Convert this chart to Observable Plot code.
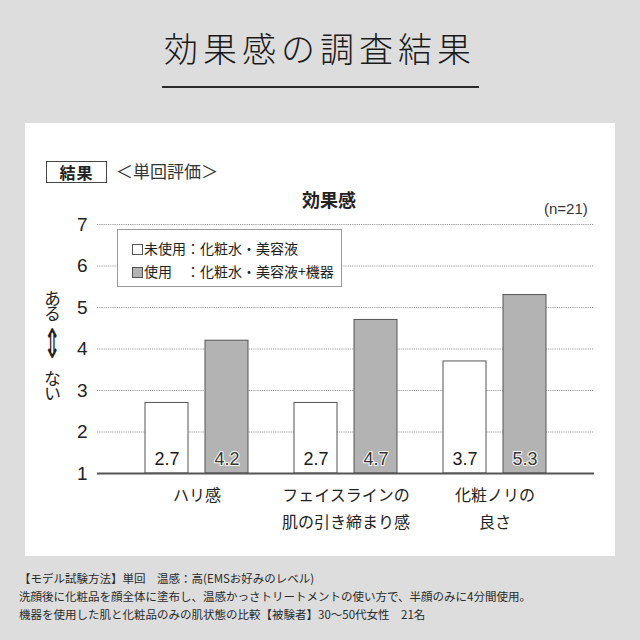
<!DOCTYPE html>
<html>
<head>
<meta charset="utf-8">
<script src="https://cdn.jsdelivr.net/npm/d3@7"></script>
<script src="https://cdn.jsdelivr.net/npm/@observablehq/plot@0.6"></script>
<style>
  html, body { margin: 0; padding: 0; }
  body { width: 640px; height: 640px; background: #dddddd; position: relative; overflow: hidden;
         font-family: "Noto Sans CJK JP", "Noto Sans", sans-serif; color: #222; }
  .abs { position: absolute; white-space: nowrap; }
  #panel { left: 25px; top: 123px; width: 590px; height: 433px; background: #fff; }
  #title { left: 0; width: 640px; top: 26px; text-align: center; font-size: 34px; font-weight: 300; letter-spacing: 5px; line-height: 44px; color: #1a1a1a; }
  #rule { left: 162px; top: 86px; width: 317px; height: 2px; background: #2a2a2a; }
  #chart { left: 0; top: 0; }
  #resbox { left: 46px; top: 161px; width: 59px; height: 20px; border: 1px solid #444; font-size: 16px; font-weight: bold; line-height: 20px; text-align: center; letter-spacing: 1px; }
  #tanpatsu { left: 116px; top: 160px; font-size: 17px; line-height: 22px; color: #333; }
  #ctitle { left: 302px; top: 187px; font-size: 18px; font-weight: bold; line-height: 24px; }
  #nlabel { left: 544px; top: 200px; font-size: 15px; line-height: 18px; color: #333; font-family: "Liberation Sans", "Noto Sans CJK JP", sans-serif; }
  #legend { left: 117px; top: 229px; width: 223px; height: 56px; border: 1px solid #999; background: #fff; }
  .lrow { position: absolute; left: 14px; font-size: 14px; line-height: 18px; color: #222; }
  .sq { display: inline-block; width: 9px; height: 9px; border: 1px solid #555; vertical-align: -1px; margin-right: 1px; }
  #ylab { left: 43px; top: 290px; writing-mode: vertical-rl; text-orientation: upright; font-size: 17px; line-height: 18px; letter-spacing: -2px; color: #222; }
  #ylab .arr { display: inline-block; writing-mode: horizontal-tb; width: 18px; height: 50px; line-height: 50px; text-align: center; font-size: 22px; font-family: "DejaVu Sans", sans-serif; transform: scale(0.95, 1.85); letter-spacing: 0; }
  #foot { left: 19px; top: 569px; font-size: 11.5px; line-height: 18px; color: #2a2a2a; }
</style>
</head>
<body>
<div id="panel" class="abs"></div>
<div id="title" class="abs">効果感の調査結果</div>
<div id="rule" class="abs"></div>
<div id="chart" class="abs"></div>
<div id="resbox" class="abs">結果</div>
<div id="tanpatsu" class="abs">＜単回評価＞</div>
<div id="ctitle" class="abs">効果感</div>
<div id="nlabel" class="abs">(n=21)</div>
<div id="legend" class="abs">
  <div class="lrow" style="top:9px"><span class="sq" style="background:#fff"></span>未使用：化粧水・美容液</div>
  <div class="lrow" style="top:32px"><span class="sq" style="background:#b3b3b3"></span>使用　：化粧水・美容液+機器</div>
</div>
<div id="ylab" class="abs">ある<span class="arr">⇕</span>ない</div>
<div id="foot" class="abs">【モデル試験方法】単回　温感：高(EMSお好みのレベル)<br>洗顔後に化粧品を顔全体に塗布し、温感かっさトリートメントの使い方で、半顔のみに4分間使用。<br>機器を使用した肌と化粧品のみの肌状態の比較【被験者】30〜50代女性　21名</div>

<script>
const categories = ["ハリ感", "フェイスラインの\n肌の引き締まり感", "化粧ノリの\n良さ"];
const seriesNames = ["未使用", "使用"];
const unusedValues = [2.7, 2.7, 3.7];
const usedValues = [4.2, 4.7, 5.3];
const yTicks = [1, 2, 3, 4, 5, 6, 7];
const gridTicks = [2, 3, 4, 5, 6, 7];

const unusedData = categories.map((c, i) => ({cat: c, series: seriesNames[0], value: unusedValues[i]}));
const usedData = categories.map((c, i) => ({cat: c, series: seriesNames[1], value: usedValues[i]}));

const H = 540;
const numFont = "'Liberation Sans', Arial, sans-serif";

const chart = Plot.plot({
  width: 640,
  height: H,
  marginLeft: 97,
  marginRight: 46,
  marginTop: 224,
  marginBottom: H - 473,
  style: {background: "transparent", fontFamily: "'Noto Sans CJK JP', sans-serif", color: "#222", overflow: "visible"},
  x: {domain: categories, padding: 0, insetLeft: 24.5, insetRight: 25.5, label: null},
  y: {domain: [1, 7], label: null},
  marks: [
    Plot.ruleY(gridTicks, {stroke: "#9a9a9a", strokeWidth: 1, strokeDasharray: "1.2,1"}),
    Plot.barY(unusedData, {x: "cat", y1: 1, y2: "value", fill: "#ffffff", stroke: "#555", strokeWidth: 1, insetLeft: 23, insetRight: 83}),
    Plot.barY(usedData, {x: "cat", y1: 1, y2: "value", fill: "#b3b3b3", stroke: "#555", strokeWidth: 1, insetLeft: 83, insetRight: 23}),
    Plot.ruleY([1], {stroke: "#555", strokeWidth: 2}),
    Plot.text(unusedData, {x: "cat", y: 1, text: d => d.value.toFixed(1), dx: -30, dy: -14, fontSize: 18, fill: "#1a1a1a", fontFamily: numFont}),
    Plot.text(usedData, {x: "cat", y: 1, text: d => d.value.toFixed(1), dx: 30, dy: -14, fontSize: 18, fill: "#333", stroke: "#fff", strokeWidth: 2, paintOrder: "stroke", fontFamily: numFont}),
    Plot.axisY({ticks: yTicks, tickSize: 0, tickPadding: 10, fontSize: 19, fontFamily: numFont, label: null, tickFormat: d => String(d)}),
    Plot.axisX({tickSize: 0, tickPadding: 9, fontSize: 16, lineHeight: 1.65, label: null})
  ]
});
document.getElementById("chart").appendChild(chart);
</script>
</body>
</html>
